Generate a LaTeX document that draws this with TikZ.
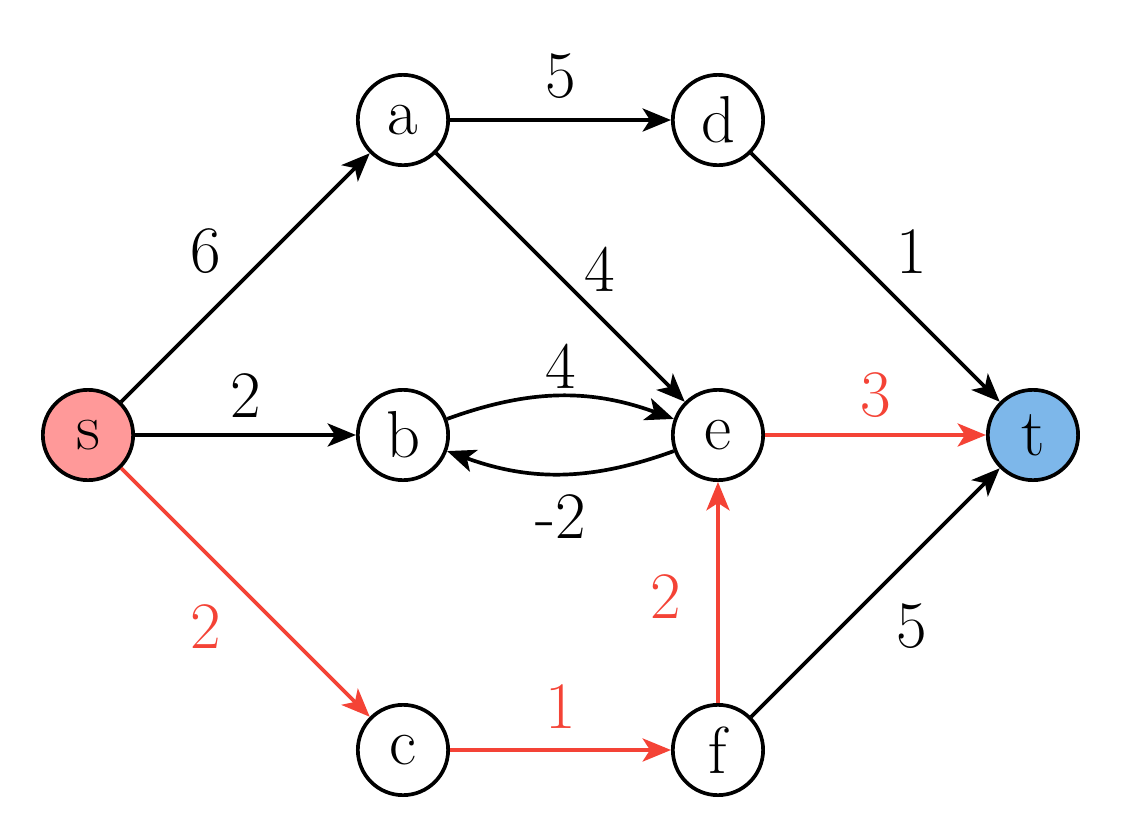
\documentclass[tikz,border=0pt]{standalone}
\usepackage{fontspec}
\usetikzlibrary{arrows.meta}
\definecolor{pathred}{RGB}{244,67,54}
\definecolor{srcfill}{RGB}{255,153,153}
\definecolor{sinkfill}{RGB}{125,183,234}
\tikzset{
  vertex/.style={circle,draw,line width=1pt,minimum size=0.86cm,inner sep=0pt,font=\fontsize{18}{20}\selectfont},
  edge/.style={line width=1pt,-{Stealth[length=2.7mm,width=2.2mm,inset=0.7mm]}},
  hot/.style={edge,draw=pathred},
  lbl/.style={midway,font=\fontsize{18}{20}\selectfont}
}
\begin{document}
\begin{tikzpicture}
  \useasboundingbox (-0.838,-3.829) rectangle (9.848,4.143);
  % vertices
  \node[vertex,fill=srcfill] (s) at (0,0) {s};
  \node[vertex] (a) at (3,3) {a};
  \node[vertex] (d) at (6,3) {d};
  \node[vertex] (b) at (3,0) {b};
  \node[vertex] (e) at (6,0) {e};
  \node[vertex,fill=sinkfill] (t) at (9,0) {t};
  \node[vertex] (c) at (3,-3) {c};
  \node[vertex] (f) at (6,-3) {f};
  % edges
  \draw[edge](s)--(a)node[lbl,shift={(-0.38,0.25)}]{6};
  \draw[edge](s)--(b)node[lbl,shift={(0,0.38)}]{2};
  \draw[edge](a)--(d)node[lbl,shift={(0,0.42)}]{5};
  \draw[edge](a)--(e)node[lbl,shift={(0.37,0.08)}]{4};
  \draw[edge](d)--(t)node[lbl,shift={(0.35,0.25)}]{1};
  \draw[edge](b)to[bend left=20]node[lbl,shift={(0,0.29)}]{4}(e);
  \draw[edge](e)to[bend left=20]node[lbl,shift={(0,-0.41)}]{-2}(b);
  \draw[edge](f)--(t)node[lbl,shift={(0.35,-0.32)}]{5};
  % shortest path
  \draw[hot](s)--(c)node[lbl,text=pathred,shift={(-0.38,-0.32)}]{2};
  \draw[hot](c)--(f)node[lbl,text=pathred,shift={(0,0.41)}]{1};
  \draw[hot](f)--(e)node[lbl,text=pathred,shift={(-0.5,-0.04)}]{2};
  \draw[hot](e)--(t)node[lbl,text=pathred,shift={(0,0.38)}]{3};
\end{tikzpicture}
\end{document}
